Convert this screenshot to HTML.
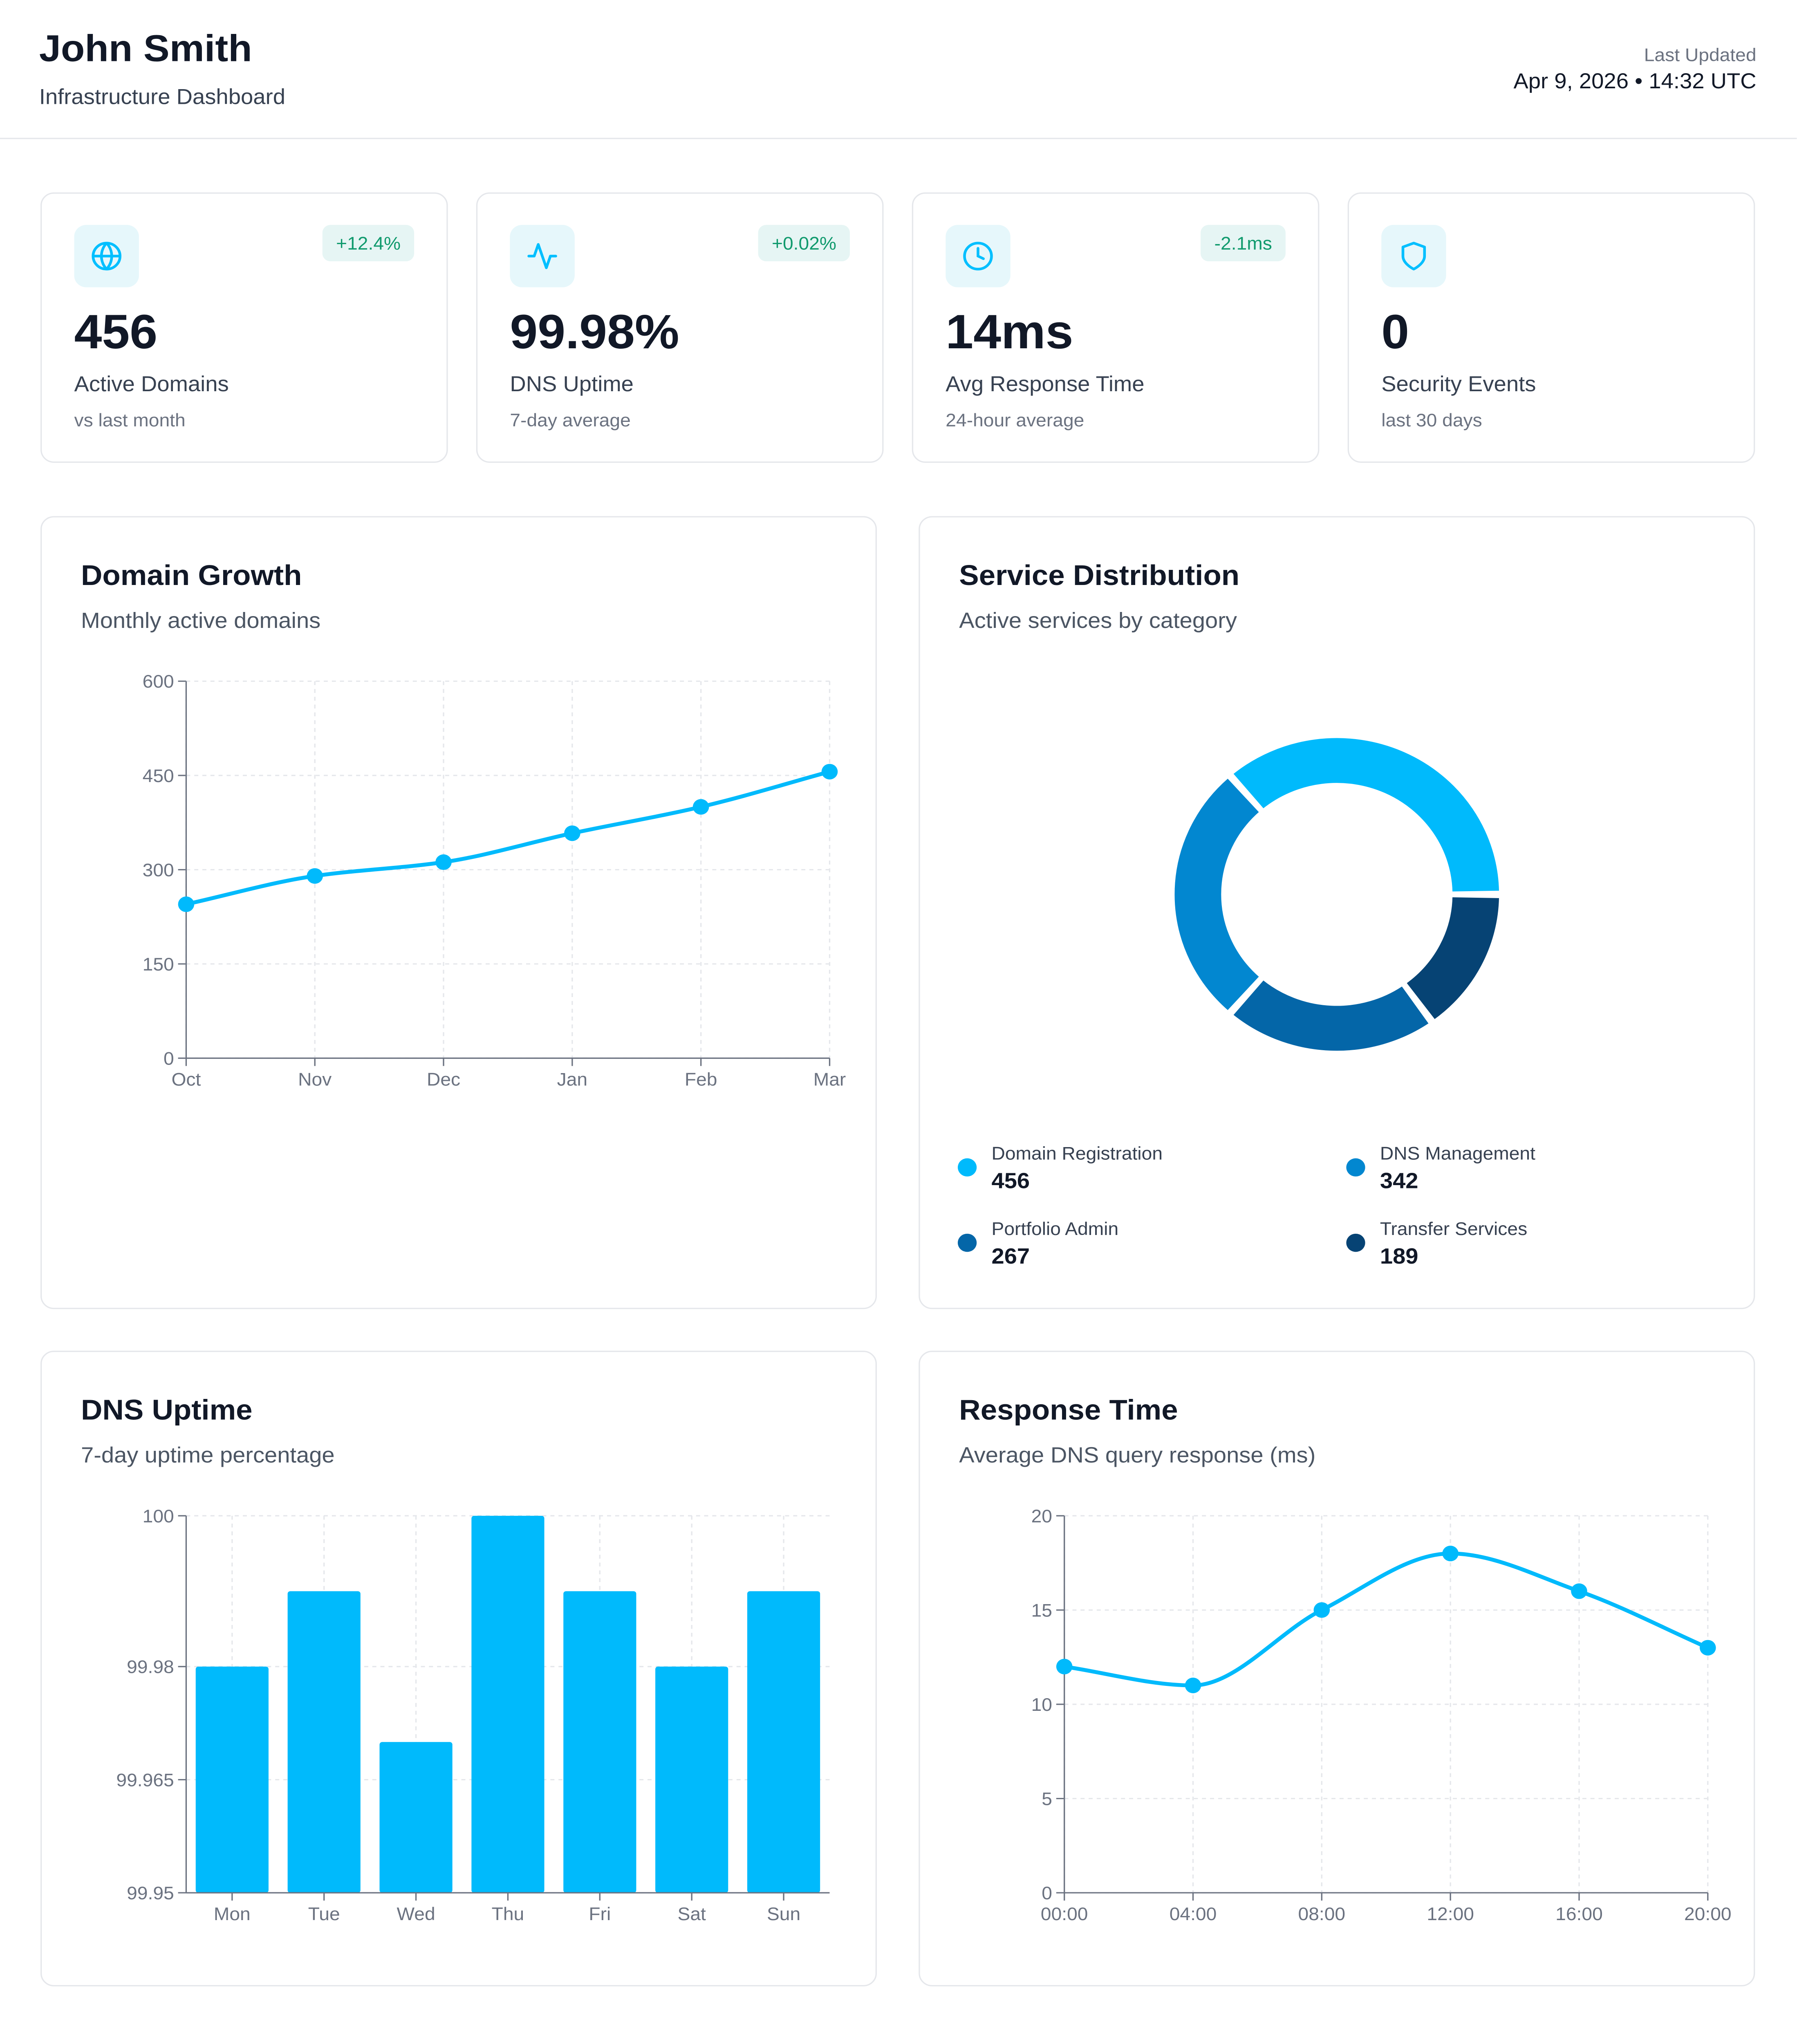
<!DOCTYPE html>
<html><head><meta charset="utf-8">
<style>
html,body{margin:0;padding:0;background:#fff;}
html{width:4396px;height:5180px;overflow:hidden;}
body{width:4396px;height:5180px;overflow:hidden;font-family:"Liberation Sans",sans-serif;color:#111827;position:relative;}
#root{position:absolute;left:0;top:0;width:1332px;height:1569px;transform:scale(3.3,3.18);transform-origin:0 0;overflow:hidden;}
.abs{position:absolute;}
.card{position:absolute;border:1px solid #e5e7eb;border-radius:10px;background:#fff;box-sizing:border-box;}
.icon{position:absolute;left:24px;top:24px;width:48px;height:48px;border-radius:9px;background:#e6f7fb;display:flex;align-items:center;justify-content:center;}
.badge{position:absolute;right:24px;top:24px;height:28px;padding:0 10px;border-radius:6px;background:#e6f5f4;color:#109a6d;font-size:14px;line-height:28px;}
.val{position:absolute;left:24px;top:86px;font-size:37px;font-weight:bold;}
.lbl{position:absolute;left:24px;top:138px;font-size:16.5px;color:#374151;}
.sub{position:absolute;left:24px;top:166px;font-size:14px;color:#6b7280;}
.ct{position:absolute;left:29px;top:32px;font-size:22px;font-weight:bold;}
.cs{position:absolute;left:29px;top:70px;font-size:17px;color:#4b5563;}
svg text{font-family:"Liberation Sans",sans-serif;}
.leg{position:absolute;font-size:14px;color:#374151;}
.leg b{display:block;font-size:17px;color:#111827;margin-top:4px;}
.dot{position:absolute;width:14px;height:14px;border-radius:50%;}
</style></head><body>
<div id="root">
<div class="abs" style="left:29px;top:22px;font-size:29px;font-weight:bold;">John Smith</div>
<div class="abs" style="left:29px;top:66px;font-size:16.5px;color:#374151;">Infrastructure Dashboard</div>
<div class="abs" style="right:30px;top:34px;font-size:14px;color:#6b7280;">Last Updated</div>
<div class="abs" style="right:30px;top:54px;font-size:16.5px;">Apr 9, 2026 • 14:32 UTC</div>
<div class="abs" style="left:0;top:106px;width:1332px;height:1px;background:#e5e7eb;"></div>

<div class="card" style="left:30px;top:148px;width:302px;height:208px;">
 <div class="icon"><svg width="24" height="24" viewBox="0 0 24 24" fill="none" stroke="#00bfff" stroke-width="2"><circle cx="12" cy="12" r="10"/><path d="M2 12h20M12 2a15 15 0 0 1 0 20M12 2a15 15 0 0 0 0 20"/></svg></div>
 <div class="badge">+12.4%</div>
 <div class="val">456</div>
 <div class="lbl">Active Domains</div>
 <div class="sub">vs last month</div>
</div>
<div class="card" style="left:353px;top:148px;width:302px;height:208px;">
 <div class="icon"><svg width="24" height="24" viewBox="0 0 24 24" fill="none" stroke="#00bfff" stroke-width="2" stroke-linejoin="round" stroke-linecap="round"><path d="M22 12h-4l-3 9L9 3l-3 9H2"/></svg></div>
 <div class="badge">+0.02%</div>
 <div class="val">99.98%</div>
 <div class="lbl">DNS Uptime</div>
 <div class="sub">7-day average</div>
</div>
<div class="card" style="left:676px;top:148px;width:302px;height:208px;">
 <div class="icon"><svg width="24" height="24" viewBox="0 0 24 24" fill="none" stroke="#00bfff" stroke-width="2" stroke-linecap="round"><circle cx="12" cy="12" r="10"/><path d="M12 6v6l4 2"/></svg></div>
 <div class="badge">-2.1ms</div>
 <div class="val">14ms</div>
 <div class="lbl">Avg Response Time</div>
 <div class="sub">24-hour average</div>
</div>
<div class="card" style="left:999px;top:148px;width:302px;height:208px;">
 <div class="icon"><svg width="24" height="24" viewBox="0 0 24 24" fill="none" stroke="#00bfff" stroke-width="2" stroke-linejoin="round"><path d="M12 22s8-4 8-10V5l-8-3-8 3v7c0 6 8 10 8 10z"/></svg></div>
 <div class="val">0</div>
 <div class="lbl">Security Events</div>
 <div class="sub">last 30 days</div>
</div>

<div class="card" style="left:30px;top:397px;width:620px;height:610px;">
 <div class="ct">Domain Growth</div>
 <div class="cs">Monthly active domains</div>
</div>
<div class="card" style="left:681px;top:397px;width:620px;height:610px;">
 <div class="ct">Service Distribution</div>
 <div class="cs">Active services by category</div>
</div>
<div class="card" style="left:30px;top:1039px;width:620px;height:489px;">
 <div class="ct">DNS Uptime</div>
 <div class="cs">7-day uptime percentage</div>
</div>
<div class="card" style="left:681px;top:1039px;width:620px;height:489px;">
 <div class="ct">Response Time</div>
 <div class="cs">Average DNS query response (ms)</div>
</div>

<div id="legend"></div>
<svg id="charts" class="abs" style="left:0;top:0" width="1332" height="1540"></svg>
</div>
<script>
const growthMonths=["Oct","Nov","Dec","Jan","Feb","Mar"];
const growthValues=[245,290,312,358,400,456];
const growthTicks=[0,150,300,450,600];
const serviceNames=["Domain Registration","DNS Management","Portfolio Admin","Transfer Services"];
const serviceValues=[456,342,267,189];
const serviceColors=["#00bafc","#0287d0","#0466a8","#064374"];
const uptimeDays=["Mon","Tue","Wed","Thu","Fri","Sat","Sun"];
const uptimeValues=[99.98,99.99,99.97,100,99.99,99.98,99.99];
const uptimeTicks=[99.95,99.965,99.98,100];
const respHours=["00:00","04:00","08:00","12:00","16:00","20:00"];
const respValues=[12,11,15,18,16,13];
const respTicks=[0,5,10,15,20];

const NS="http://www.w3.org/2000/svg";
const svg=document.getElementById('charts');
function mk(tag,attrs,parent){const e=document.createElementNS(NS,tag);for(const k in attrs)e.setAttribute(k,attrs[k]);(parent||svg).appendChild(e);return e;}
function txt(s,x,y,anchor,parent){const t=mk('text',{x:x,y:y,'text-anchor':anchor,'font-size':14,fill:'#6b7280'},parent);t.textContent=s;return t;}

function axesFrame(g,x0,x1,y0,y1,yt,ys,xcenters,xlabels,name){
  yt.forEach(v=>{const y=ys(v);
    const l=mk('line',{x1:x0,x2:x1,y1:y,y2:y,stroke:'#e5e7eb','stroke-dasharray':'3 3'},g);
    
    mk('line',{x1:x0-6,x2:x0,y1:y,y2:y,stroke:'#6b7280'},g);
    const t=txt(String(v),x0-9,y+5,'end',g);
    
  });
  xcenters.forEach((x,i)=>{
    const l=mk('line',{x1:x,x2:x,y1:y1,y2:y0,stroke:'#e5e7eb','stroke-dasharray':'3 3'},g);
    
    mk('line',{x1:x,x2:x,y1:y0,y2:y0+6,stroke:'#6b7280'},g);
    const t=txt(xlabels[i],x,y0+21,'middle',g);
    
  });
  mk('line',{x1:x0,x2:x0,y1:y1,y2:y0,stroke:'#6b7280'},g);
  mk('line',{x1:x0,x2:x1,y1:y0,y2:y0,stroke:'#6b7280'},g);
}
function monotone(pts){
  const n=pts.length;const d=[],m=[];
  for(let i=0;i<n-1;i++)d.push((pts[i+1][1]-pts[i][1])/(pts[i+1][0]-pts[i][0]));
  m[0]=d[0];m[n-1]=d[n-2];
  for(let i=1;i<n-1;i++){m[i]=(d[i-1]*d[i]<=0)?0:2/(1/d[i-1]+1/d[i]);}
  let s='M'+pts[0][0]+','+pts[0][1];
  for(let i=0;i<n-1;i++){const h=(pts[i+1][0]-pts[i][0])/3;
    s+=' C'+(pts[i][0]+h)+','+(pts[i][1]+m[i]*h)+' '+(pts[i+1][0]-h)+','+(pts[i+1][1]-m[i+1]*h)+' '+pts[i+1][0]+','+pts[i+1][1];}
  return s;
}

(function(){
  const g=mk('g',{});
  const x0=138,x1=615,y0=814,y1=524,max=600;
  const ys=v=>y0-(v/max)*(y0-y1);
  const xs=i=>x0+i*(x1-x0)/(growthMonths.length-1);
  const xc=growthMonths.map((_,i)=>xs(i));
  axesFrame(g,x0,x1,y0,y1,growthTicks,ys,xc,growthMonths,'growth');
  const pts=growthValues.map((v,i)=>[xs(i),ys(v)]);
  const p=mk('path',{d:monotone(pts),fill:'none',stroke:'#00bafc','stroke-width':3},g);
  
  pts.forEach(pt=>{const c=mk('circle',{cx:pt[0],cy:pt[1],r:6,fill:'#00bafc'},g);
    });
})();

(function(){
  const g=mk('g',{});
  const cx=991,cy=688,ro=121,ri=85,pad=2;
  const total=serviceValues.reduce((a,b)=>a+b,0);
  let a=0;
  const pt=(r,deg)=>[cx+r*Math.cos(deg*Math.PI/180),cy-r*Math.sin(deg*Math.PI/180)];
  serviceValues.forEach((v,i)=>{
    const span=v/total*360;const s=a+pad/2,e=a+span-pad/2;a+=span;
    const p1=pt(ro,s),p2=pt(ro,e),p3=pt(ri,e),p4=pt(ri,s);const lg=(e-s)>180?1:0;
    const d=`M${p1[0]},${p1[1]} A${ro},${ro} 0 ${lg} 0 ${p2[0]},${p2[1]} L${p3[0]},${p3[1]} A${ri},${ri} 0 ${lg} 1 ${p4[0]},${p4[1]} Z`;
    const path=mk('path',{d:d,fill:serviceColors[i],stroke:'#fff','stroke-width':1.5},g);
    
  });
  const leg=document.getElementById('legend');
  const pos=[[717,887],[1005,887],[717,945],[1005,945]];
  serviceNames.forEach((n,i)=>{
    const d=document.createElement('div');d.className='dot';
    d.style.left=(pos[i][0]-7)+'px';d.style.top=(pos[i][1]+4)+'px';d.style.background=serviceColors[i];
    
    
    leg.appendChild(d);
    const l=document.createElement('div');l.className='leg';
    l.style.left=(pos[i][0]+18)+'px';l.style.top=(pos[i][1]-8)+'px';
    l.innerHTML=n+'<b>'+serviceValues[i]+'</b>';
    
    
    leg.appendChild(l);
  });
})();

(function(){
  const g=mk('g',{});
  const x0=138,x1=615,y0=1456,y1=1166,min=99.95,max=100;
  const ys=v=>y0-((v-min)/(max-min))*(y0-y1);
  const bw=(x1-x0)/uptimeDays.length;
  const xc=uptimeDays.map((_,i)=>x0+bw*(i+0.5));
  axesFrame(g,x0,x1,y0,y1,uptimeTicks,ys,xc,uptimeDays,'uptime');
  uptimeValues.forEach((v,i)=>{
    const y=ys(v);
    const r=mk('rect',{x:xc[i]-27,y:y,width:54,height:y0-y,fill:'#00bafc',rx:2},g);
    
  });
  mk('line',{x1:x0,x2:x1,y1:y0,y2:y0,stroke:'#6b7280'},g);
})();

(function(){
  const g=mk('g',{});
  const x0=789,x1=1266,y0=1456,y1=1166,max=20;
  const ys=v=>y0-(v/max)*(y0-y1);
  const xs=i=>x0+i*(x1-x0)/(respHours.length-1);
  const xc=respHours.map((_,i)=>xs(i));
  axesFrame(g,x0,x1,y0,y1,respTicks,ys,xc,respHours,'response');
  const pts=respValues.map((v,i)=>[xs(i),ys(v)]);
  const p=mk('path',{d:monotone(pts),fill:'none',stroke:'#00bafc','stroke-width':3},g);
  
  pts.forEach(pt=>{const c=mk('circle',{cx:pt[0],cy:pt[1],r:6,fill:'#00bafc'},g);
    });
})();
</script>
</body></html>
